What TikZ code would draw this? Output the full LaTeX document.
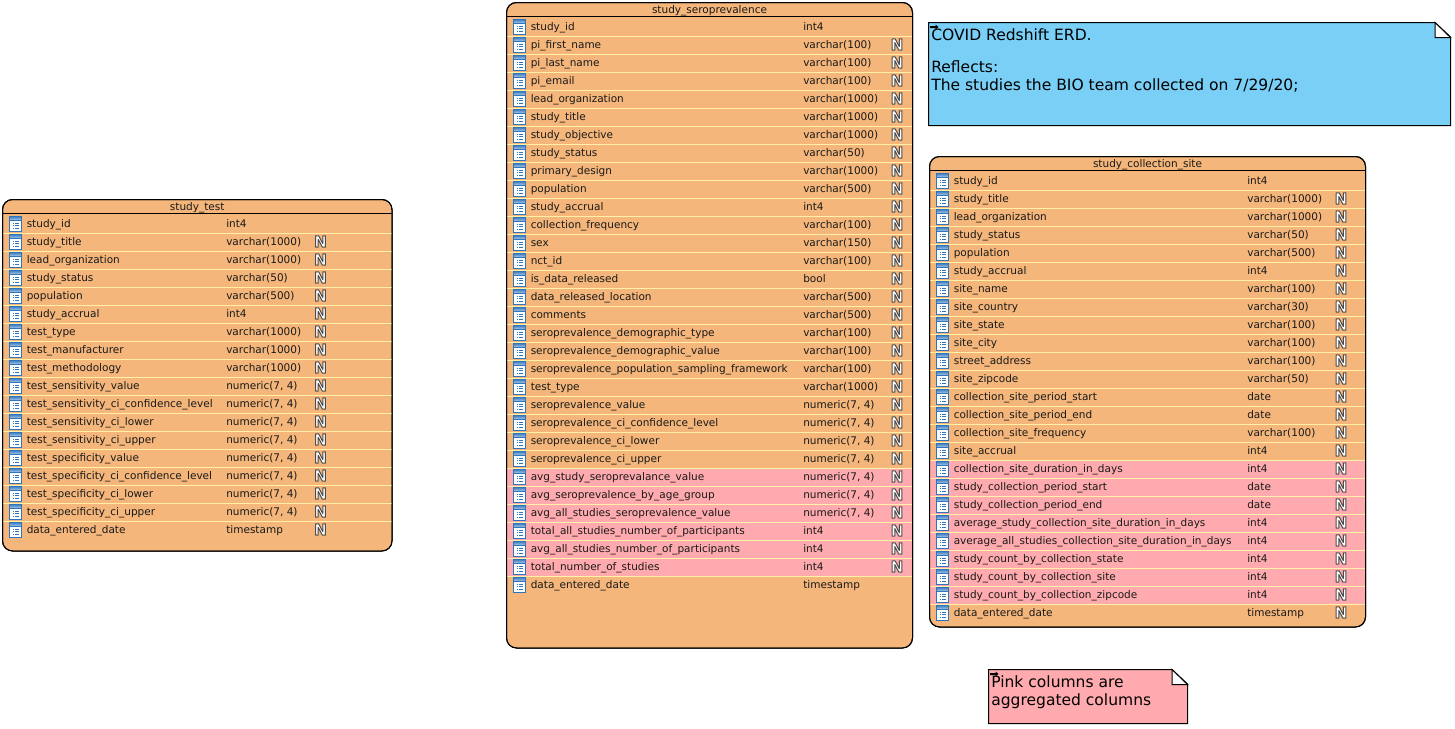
\documentclass[tikz,border=0pt]{standalone}
\usepackage{fontspec}
\setmainfont{DejaVu Sans}
\newfontfamily\nullfontmark{DejaVu Sans}
\definecolor{tableorange}{HTML}{F4B67B}
\definecolor{rowpink}{HTML}{FFAAAE}
\definecolor{rowline}{HTML}{FFF0A8}
\definecolor{noteblue}{HTML}{7ACFF6}
\definecolor{iconblue}{HTML}{2F75BE}
\tikzset{
  coltext/.style={anchor=base west,inner sep=0pt,font=\fontsize{7.88pt}{9pt}\selectfont,text=black!90},
  titletext/.style={anchor=base,inner sep=0pt,font=\fontsize{7.88pt}{9pt}\selectfont,text=black!90},
  notetext/.style={anchor=base west,inner sep=0pt,font=\fontsize{11.65pt}{13pt}\selectfont,text=black},
  nulltext/.style={inner sep=0pt,font=\nullfontmark\bfseries\fontsize{11.4pt}{12pt}\selectfont},
  tablebox/.style={draw=black,line width=.75pt,fill=tableorange,rounded corners=7.5pt},
  notebox/.style={draw=black,line width=.75pt},
}
\newcommand{\nullmark}[2]{%
  \node[nulltext] (#1) at (#2) {\special{pdf:literal direct 2 Tr 0.75 w 1 j 0.3 0.3 0.3 RG 1 g}N\special{pdf:literal direct 0 Tr 0 j 0 g 0 G}};}
\newcommand{\columnicon}[2]{% left x, top y
  \path[draw=iconblue,line width=.6pt,fill=white] (#1,#2) rectangle ++(12,15);
  \path[top color=iconblue,bottom color=iconblue!35,draw=iconblue,line width=.6pt] (#1,#2) rectangle ++(12,4.5);
  \foreach \dy in {6.5,9,11.5}{
    \fill[iconblue] (#1+3,#2+\dy) rectangle ++(1.2,1.1);
    \fill[iconblue] (#1+5.2,#2+\dy) rectangle ++(4,1.1);
  }}
% name, x0, x1, ytop, ybottom, first-row centre y, typex, nullx, title, rows
\newcommand{\ertable}[9]{%
  \def\tbname{#1}\def\xa{#2}\def\xb{#3}\def\ya{#4}\def\yb{#5}\def\yr{#6}\def\xt{#7}\def\xn{#8}%
  \path[tablebox] (\xa,\ya) rectangle (\xb,\yb);
  \node[titletext] (\tbname-title) at ({(\xa+\xb)/2},\yr-13) {#9};
  \draw[black,line width=.75pt] (\xa,\yr-9.5) -- (\xb,\yr-9.5);
  \ertablerows}
\newcommand{\rowsetup}[1]{\def\ertablerowlist{#1}}
\newcommand{\ertablerows}{%
  \foreach \cname/\ctype/\cflag [count=\r from 0] in \ertablerowlist {
    \pgfmathsetmacro{\yc}{\yr+18*\r}
    \if p\cflag\fill[rowpink] (\xa+.5,\yc-8) rectangle (\xb-.5,\yc+10);\fi
    \ifnum\r>0 \draw[rowline,line width=.75pt] (\xa+.5,\yc-7.5) -- (\xb-.5,\yc-7.5);\fi
    \columnicon{\xa+7}{\yc-7}
    \node[coltext] (\tbname-n\r) at (\xa+24,\yc+4.2) {\cname};
    \node[coltext] (\tbname-t\r) at (\xt,\yc+4.2) {\ctype};
    \if n\cflag\nullmark{\tbname-x\r}{\xn,\yc+.5}\fi
    \if p\cflag\nullmark{\tbname-x\r}{\xn,\yc+.5}\fi
  }
  \path[draw=black,line width=.75pt,rounded corners=7.5pt] (\xa,\ya) rectangle (\xb,\yb);
}
\newcommand{\notearrow}[2]{%
  \fill[black] (#1,#2) -- ++(5.5,0) -- ++(0,-1.5) -- ++(3,2.5) -- ++(-3,2.5) -- ++(0,-1.5) -- ++(-5.5,0) -- cycle;}
\begin{document}
\begin{tikzpicture}[x=.75pt,y=-.75pt]
\useasboundingbox (0,0) rectangle (1455,728);
\fill[white] (0,0) rectangle (1455,728);

\rowsetup{study\_id/int4/o,
study\_title/varchar(1000)/n,
lead\_organization/varchar(1000)/n,
study\_status/varchar(50)/n,
population/varchar(500)/n,
study\_accrual/int4/n,
test\_type/varchar(1000)/n,
test\_manufacturer/varchar(1000)/n,
test\_methodology/varchar(1000)/n,
test\_sensitivity\_value/{numeric(7, 4)}/n,
test\_sensitivity\_ci\_confidence\_level/{numeric(7, 4)}/n,
test\_sensitivity\_ci\_lower/{numeric(7, 4)}/n,
test\_sensitivity\_ci\_upper/{numeric(7, 4)}/n,
test\_specificity\_value/{numeric(7, 4)}/n,
test\_specificity\_ci\_confidence\_level/{numeric(7, 4)}/n,
test\_specificity\_ci\_lower/{numeric(7, 4)}/n,
test\_specificity\_ci\_upper/{numeric(7, 4)}/n,
data\_entered\_date/timestamp/n}
\ertable{test}{2.5}{392}{199.5}{551}{223}{226}{320.5}{study\_test}

\rowsetup{study\_id/int4/o,
pi\_first\_name/varchar(100)/n,
pi\_last\_name/varchar(100)/n,
pi\_email/varchar(100)/n,
lead\_organization/varchar(1000)/n,
study\_title/varchar(1000)/n,
study\_objective/varchar(1000)/n,
study\_status/varchar(50)/n,
primary\_design/varchar(1000)/n,
population/varchar(500)/n,
study\_accrual/int4/n,
collection\_frequency/varchar(100)/n,
sex/varchar(150)/n,
nct\_id/varchar(100)/n,
is\_data\_released/bool/n,
data\_released\_location/varchar(500)/n,
comments/varchar(500)/n,
seroprevalence\_demographic\_type/varchar(100)/n,
seroprevalence\_demographic\_value/varchar(100)/n,
seroprevalence\_population\_sampling\_framework/varchar(100)/n,
test\_type/varchar(1000)/n,
seroprevalence\_value/{numeric(7, 4)}/n,
seroprevalence\_ci\_confidence\_level/{numeric(7, 4)}/n,
seroprevalence\_ci\_lower/{numeric(7, 4)}/n,
seroprevalence\_ci\_upper/{numeric(7, 4)}/n,
avg\_study\_seroprevalance\_value/{numeric(7, 4)}/p,
avg\_seroprevalence\_by\_age\_group/{numeric(7, 4)}/p,
avg\_all\_studies\_seroprevalence\_value/{numeric(7, 4)}/p,
total\_all\_studies\_number\_of\_participants/int4/p,
avg\_all\_studies\_number\_of\_participants/int4/p,
total\_number\_of\_studies/int4/p,
data\_entered\_date/timestamp/o}
\ertable{sero}{506.5}{912.5}{2.5}{648}{26}{803}{897}{study\_seroprevalence}

\rowsetup{study\_id/int4/o,
study\_title/varchar(1000)/n,
lead\_organization/varchar(1000)/n,
study\_status/varchar(50)/n,
population/varchar(500)/n,
study\_accrual/int4/n,
site\_name/varchar(100)/n,
site\_country/varchar(30)/n,
site\_state/varchar(100)/n,
site\_city/varchar(100)/n,
street\_address/varchar(100)/n,
site\_zipcode/varchar(50)/n,
collection\_site\_period\_start/date/n,
collection\_site\_period\_end/date/n,
collection\_site\_frequency/varchar(100)/n,
site\_accrual/int4/n,
collection\_site\_duration\_in\_days/int4/p,
study\_collection\_period\_start/date/p,
study\_collection\_period\_end/date/p,
average\_study\_collection\_site\_duration\_in\_days/int4/p,
average\_all\_studies\_collection\_site\_duration\_in\_days/int4/p,
study\_count\_by\_collection\_state/int4/p,
study\_count\_by\_collection\_site/int4/p,
study\_count\_by\_collection\_zipcode/int4/p,
data\_entered\_date/timestamp/n}
\ertable{site}{929.5}{1365.5}{156.5}{627}{180}{1247}{1341}{study\_collection\_site}

% blue note
\path[notebox,fill=noteblue] (928.5,22.5) -- (1435,22.5) -- (1450.5,37) -- (1450.5,125.5) -- (928.5,125.5) -- cycle;
\path[notebox,fill=white] (1435,22.5) -- (1450.5,37.5) -- (1435,37.5) -- cycle;
\node[notetext] (note-a) at (931,40) {COVID Redshift ERD.};
\node[notetext] (note-b) at (931,72) {Reflects:};
\node[notetext] (note-c) at (931,90) {The studies the BIO team collected on 7/29/20;};
\notearrow{930}{26}

% pink note
\path[notebox,fill=rowpink] (988.5,669.5) -- (1172,669.5) -- (1187.5,684) -- (1187.5,723.5) -- (988.5,723.5) -- cycle;
\path[notebox,fill=white] (1172,669.5) -- (1187.5,684.5) -- (1172,684.5) -- cycle;
\node[notetext] (note-d) at (991,687) {Pink columns are};
\node[notetext] (note-e) at (991,705) {aggregated columns};
\notearrow{990}{673}
\end{tikzpicture}
\end{document}
